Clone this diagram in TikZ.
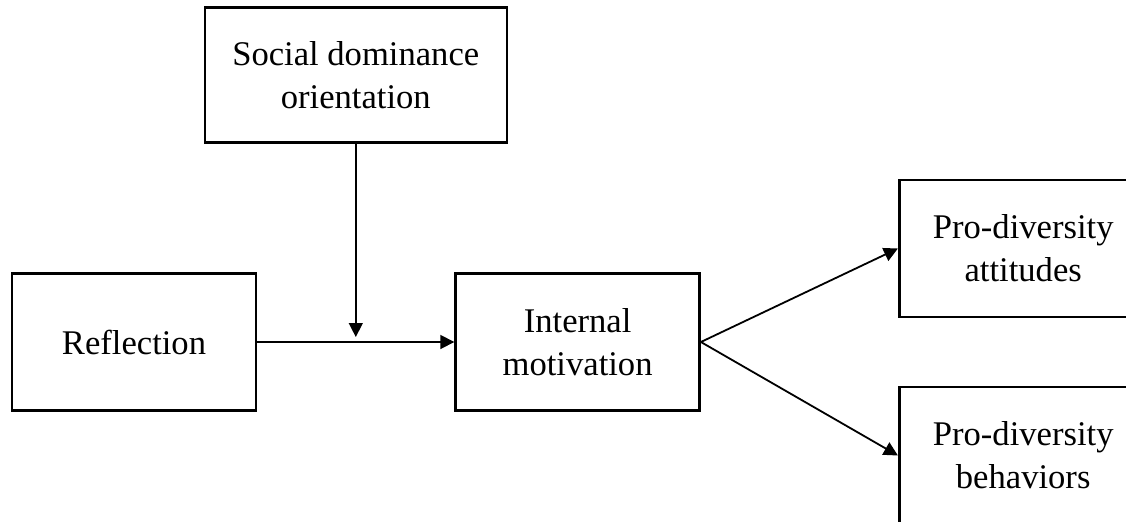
\documentclass[tikz,border=0pt]{standalone}
\usepackage{fontspec}
\setmainfont{Liberation Serif}
\usepackage{tikz}
\usetikzlibrary{arrows.meta,positioning,calc}

\begin{document}
\begin{tikzpicture}[
      node distance=98.5pt,
      box/.style={rectangle, draw=black, line width=1.3pt, inner sep=0pt,
                  minimum width=122pt, minimum height=68.5pt, align=center,
                  font=\fontsize{17.3}{21.5}\selectfont},
      arr/.style={-{Triangle[length=7pt,width=7pt]}, line width=0.9pt, draw=black}]
    % frame of the figure
    \useasboundingbox (-67pt,-89.5pt) rectangle (496pt,171pt);
    \node[box] (refl) {Reflection};
    \node[box, right=of refl] (im) {Internal\\ motivation};
    \coordinate (mid) at ($(refl.east)!0.5!(im.west)$);
    \node[box, above=99pt of mid, minimum width=151pt, minimum height=67.5pt] (sdo) {Social dominance\\ orientation};
    \node[box, right=of im, yshift=46.75pt, minimum width=124pt] (att) {Pro-diversity\\ attitudes};
    \node[box, right=of im, yshift=-56.75pt, minimum width=124pt] (beh) {Pro-diversity\\ behaviors};
    \coordinate (tip) at ([yshift=2.5pt]mid);
    \draw[arr] (refl) -- (im);
    \draw[arr, line width=0.7pt] (sdo.south) -- (tip);
    \draw[arr] (im.east) -- (att.west);
    \draw[arr] (im.east) -- (beh.west);
  \end{tikzpicture}
\end{document}
